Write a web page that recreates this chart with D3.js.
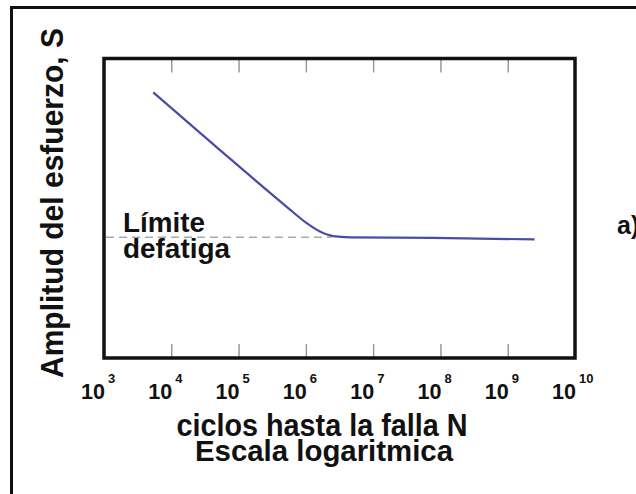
<!DOCTYPE html>
<html>
<head>
<meta charset="utf-8">
<script src="https://d3js.org/d3.v7.min.js"></script>
<style>
  body { margin: 0; background: #fff; }
  text { font-family: "Liberation Sans", Arial, sans-serif; font-weight: bold; fill: #111; }
</style>
</head>
<body>
<script>
// curve: cycles N and stress amplitude S (arbitrary units, 0..1 of the box)
var cycles    = [5.4e3, 5.3e4, 5.25e5, 1.03e6, 1.62e6, 2.53e6, 4.5e6, 7.7e7, 2.5e9];
var amplitude = [0.887, 0.694, 0.504, 0.450, 0.422, 0.407, 0.403, 0.401, 0.396];

var fatigueLimit = 0.403;
var dashEnd = 2.4e6;

var exponents = [3, 4, 5, 6, 7, 8, 9, 10];
var innerTicks = [1e4, 1e5, 1e6, 1e7, 1e8, 1e9];

var screen = {width: 636, height: 494};
var box = {left: 104, right: 575, top: 58.5, bottom: 358};

var svg = d3.select("body").append("svg")
    .attr("width", screen.width)
    .attr("height", screen.height);

// outer frame (only top and left edges show)
svg.append("rect")
    .attr("x", 11.5).attr("y", 7.5)
    .attr("width", 700).attr("height", 600)
    .attr("fill", "none").attr("stroke", "#111").attr("stroke-width", 3);

var xScale = d3.scaleLog()
    .domain([1e3, 1e10])
    .range([box.left, box.right]);

var yScale = d3.scaleLinear()
    .domain([0, 1])
    .range([box.bottom, box.top]);

// inner ticks on top and bottom
var topAxis = d3.axisBottom(xScale).tickValues(innerTicks).tickSize(14).tickFormat("");
var botAxis = d3.axisTop(xScale).tickValues(innerTicks).tickSize(14).tickFormat("");

svg.append("g").attr("transform", "translate(0," + box.top + ")").call(topAxis);
svg.append("g").attr("transform", "translate(0," + box.bottom + ")").call(botAxis);
svg.selectAll(".domain").remove();
svg.selectAll(".tick line").attr("stroke", "#999").attr("stroke-width", 1.5);

// endurance limit dashed line
svg.append("line")
    .attr("x1", xScale(1e3) + 2).attr("x2", xScale(dashEnd))
    .attr("y1", yScale(fatigueLimit)).attr("y2", yScale(fatigueLimit))
    .attr("stroke", "#aaa").attr("stroke-width", 1.5)
    .attr("stroke-dasharray", "8,5");

// S-N curve
var points = cycles.map(function(n, i) { return {n: n, s: amplitude[i]}; });
var line = d3.line()
    .x(function(d) { return xScale(d.n); })
    .y(function(d) { return yScale(d.s); })
    .curve(d3.curveMonotoneX);

svg.append("path")
    .datum(points)
    .attr("d", line)
    .attr("fill", "none")
    .attr("stroke", "#4a4aa8")
    .attr("stroke-width", 2.2);

// plot box
svg.append("rect")
    .attr("x", box.left).attr("y", box.top)
    .attr("width", box.right - box.left).attr("height", box.bottom - box.top)
    .attr("fill", "none").attr("stroke", "#111").attr("stroke-width", 3.5);

// tick labels 10^n
var labels = svg.append("g");
labels.selectAll(".base").data(exponents).enter().append("text")
    .attr("class", "base")
    .attr("x", function(e) { return xScale(Math.pow(10, e)) + 1; })
    .attr("y", 399)
    .attr("text-anchor", "end")
    .style("font-size", "22px")
    .attr("textLength", 24)
    .attr("lengthAdjust", "spacingAndGlyphs")
    .text("10");
labels.selectAll(".exp").data(exponents).enter().append("text")
    .attr("class", "exp")
    .attr("x", function(e) { return xScale(Math.pow(10, e)) + 4; })
    .attr("y", 383)
    .style("font-size", "13px")
    .text(function(e) { return e; });

// axis titles
var fit = function(sel, len) {
    return sel.attr("textLength", len).attr("lengthAdjust", "spacingAndGlyphs");
};

fit(svg.append("text")
    .attr("x", 322).attr("y", 436)
    .attr("text-anchor", "middle")
    .style("font-size", "31px")
    .text("ciclos hasta la falla N"), 291);
fit(svg.append("text")
    .attr("x", 324).attr("y", 461)
    .attr("text-anchor", "middle")
    .style("font-size", "30px")
    .text("Escala logaritmica"), 258);

fit(svg.append("text")
    .attr("transform", "translate(63,203) rotate(-90)")
    .attr("text-anchor", "middle")
    .style("font-size", "31px")
    .text("Amplitud del esfuerzo, S"), 350);

// annotation
fit(svg.append("text")
    .attr("x", 123).attr("y", 232)
    .style("font-size", "28px")
    .text("Límite"), 82);
fit(svg.append("text")
    .attr("x", 123).attr("y", 258)
    .style("font-size", "28px")
    .text("defatiga"), 107);

svg.append("text")
    .attr("x", 617).attr("y", 234)
    .style("font-size", "25px")
    .text("a)");
</script>
</body>
</html>
